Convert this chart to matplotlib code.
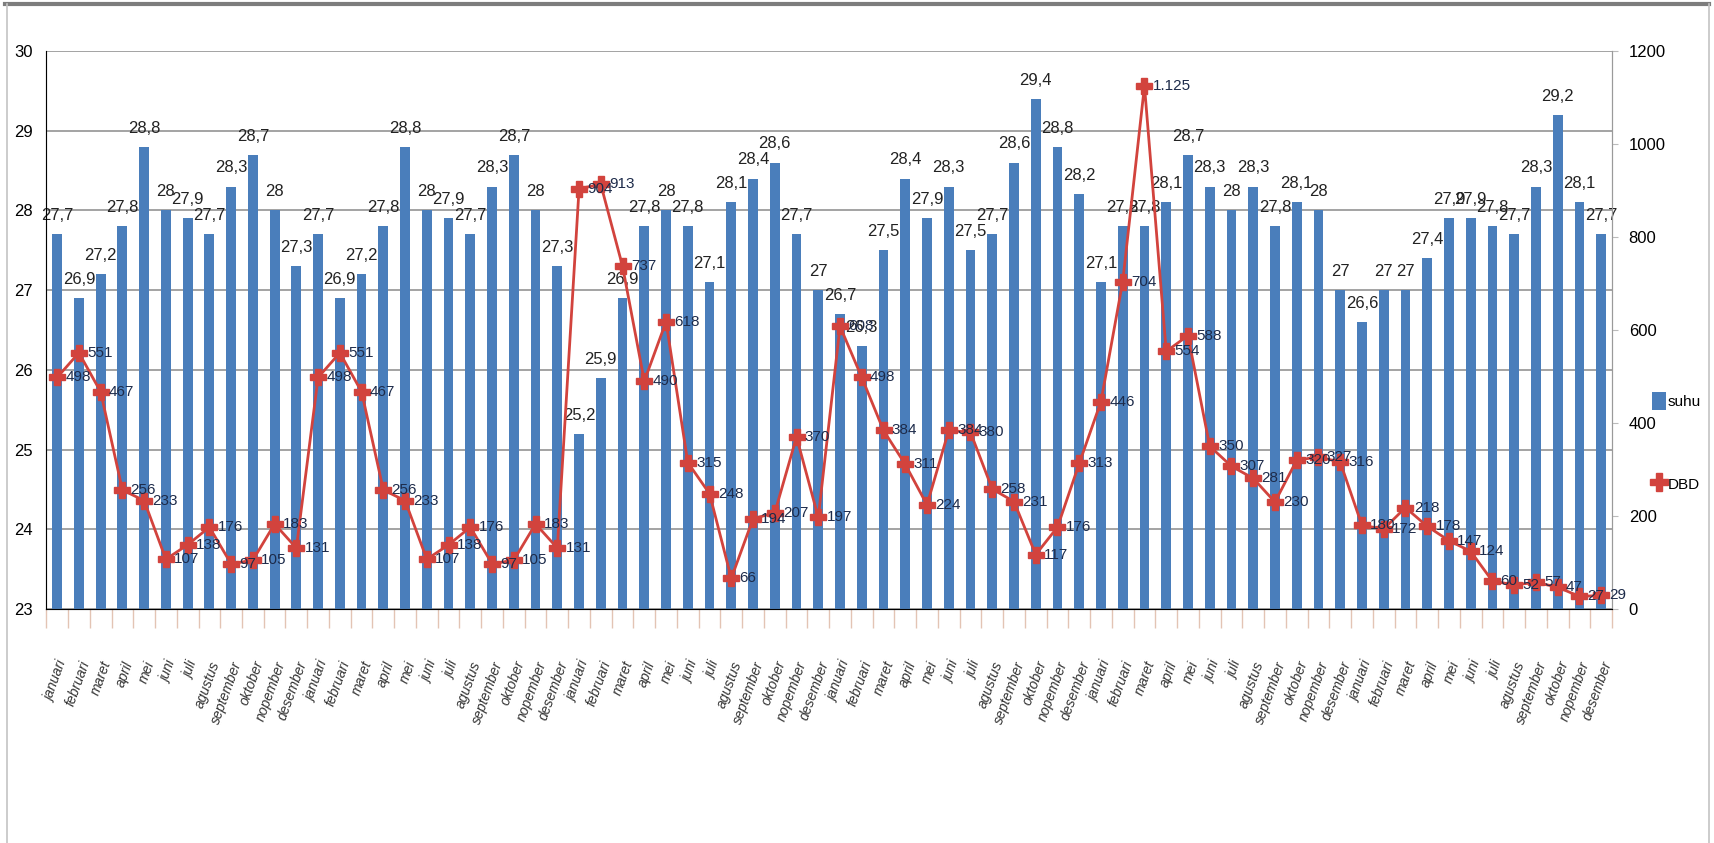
import numpy as np
import matplotlib.pyplot as plt
from matplotlib.lines import Line2D
from matplotlib.patches import Patch

# bulan untuk satu tahun, diulang 6 tahun
bulan = ['januari', 'februari', 'maret', 'april', 'mei', 'juni', 'juli',
         'agustus', 'september', 'oktober', 'nopember', 'desember']
label_bulan = bulan * 6

# suhu rata-rata bulanan (derajat C)
suhu = [27.7, 26.9, 27.2, 27.8, 28.8, 28.0, 27.9, 27.7, 28.3, 28.7, 28.0, 27.3,
        27.7, 26.9, 27.2, 27.8, 28.8, 28.0, 27.9, 27.7, 28.3, 28.7, 28.0, 27.3,
        25.2, 25.9, 26.9, 27.8, 28.0, 27.8, 27.1, 28.1, 28.4, 28.6, 27.7, 27.0,
        26.7, 26.3, 27.5, 28.4, 27.9, 28.3, 27.5, 27.7, 28.6, 29.4, 28.8, 28.2,
        27.1, 27.8, 27.8, 28.1, 28.7, 28.3, 28.0, 28.3, 27.8, 28.1, 28.0, 27.0,
        26.6, 27.0, 27.0, 27.4, 27.9, 27.9, 27.8, 27.7, 28.3, 29.2, 28.1, 27.7]

# jumlah kasus DBD per bulan
dbd = [498, 551, 467, 256, 233, 107, 138, 176, 97, 105, 183, 131,
       498, 551, 467, 256, 233, 107, 138, 176, 97, 105, 183, 131,
       904, 913, 737, 490, 618, 315, 248, 66, 194, 207, 370, 197,
       608, 498, 384, 311, 224, 384, 380, 258, 231, 117, 176, 313,
       446, 704, 1125, 554, 588, 350, 307, 281, 230, 320, 327, 316,
       180, 172, 218, 178, 147, 124, 60, 52, 57, 47, 27, 29]

biru = '#4A7EBB'
merah = '#D2433D'
plt.rcParams['font.family'] = ['Liberation Sans Narrow', 'Liberation Sans', 'DejaVu Sans']


def fmt_suhu(v):
    if float(v).is_integer():
        return str(int(v))
    return f'{v:.1f}'.replace('.', ',')


def fmt_dbd(v):
    return f'{v:,}'.replace(',', '.')


fig = plt.figure(figsize=(17.14, 8.43), dpi=100)
ax = fig.add_axes([0.027, 0.2776, 0.9135, 0.6619])
x = np.arange(len(suhu))

ax.bar(x, suhu, width=0.45, color=biru, zorder=2)
ax.set_xlim(-0.5, len(suhu) - 0.5)
ax.set_ylim(23, 30)
ax.set_yticks(range(23, 31))
ax.yaxis.grid(True, color='#8a8a8a', lw=1.1)
ax.set_axisbelow(True)
ax.tick_params(axis='y', length=0, labelsize=12, pad=10)

for xi, v in zip(x, suhu):
    ax.annotate(fmt_suhu(v), (xi, v), xytext=(0, 8), textcoords='offset points',
                ha='center', va='bottom', fontsize=12, color='#222222')

ax.set_xticks(x)
ax.set_xticklabels(label_bulan, rotation=70, ha='right', rotation_mode='anchor',
                   fontsize=10, color='#333333', style='italic')
ax.tick_params(axis='x', length=0, pad=36)
ax.set_xticks(np.arange(-0.5, len(suhu)), minor=True)
ax.tick_params(axis='x', which='minor', length=14, color='#E3C4B4', width=1)

ax.spines['top'].set_visible(False)
ax.spines['left'].set_color('#9a9a9a')
ax.spines['bottom'].set_color('#9a9a9a')
ax.spines['right'].set_color('#9a9a9a')

ax2 = ax.twinx()
ax2.plot(x, dbd, color=merah, lw=2, marker='P', ms=12, mec=merah, mfc=merah, zorder=3)
ax2.set_ylim(0, 1200)
ax2.set_yticks(range(0, 1201, 200))
ax2.tick_params(axis='y', length=4, color='#bbbbbb', labelsize=12, pad=8)
ax2.spines['top'].set_visible(False)
ax2.spines['right'].set_color('#9a9a9a')

for xi, v in zip(x, dbd):
    ax2.annotate(fmt_dbd(v), (xi, v), xytext=(6, 0), textcoords='offset points',
                 ha='left', va='center', fontsize=11, color='#1D2B4A', zorder=4)

handles = [Patch(facecolor=biru, label='suhu'),
           Line2D([], [], color=merah, lw=2, marker='P', ms=13, label='DBD')]
fig.legend(handles=handles, loc='center left', bbox_to_anchor=(0.962, 0.475),
           frameon=False, fontsize=11, labelspacing=4.2, handlelength=0.9,
           handleheight=1.5, handletextpad=0.15, borderpad=0.1, borderaxespad=0.1)

# bingkai grafik
fig.add_artist(Line2D([0.003, 0.997], [0.995, 0.995], transform=fig.transFigure,
                      color='#7d7d7d', lw=3))
fig.add_artist(Line2D([0.004, 0.004], [0.0, 0.995], transform=fig.transFigure,
                      color='#c4c4c4', lw=1.2))
fig.add_artist(Line2D([0.997, 0.997], [0.0, 0.995], transform=fig.transFigure,
                      color='#c4c4c4', lw=1.2))

fig.savefig('out.png', dpi=100)
